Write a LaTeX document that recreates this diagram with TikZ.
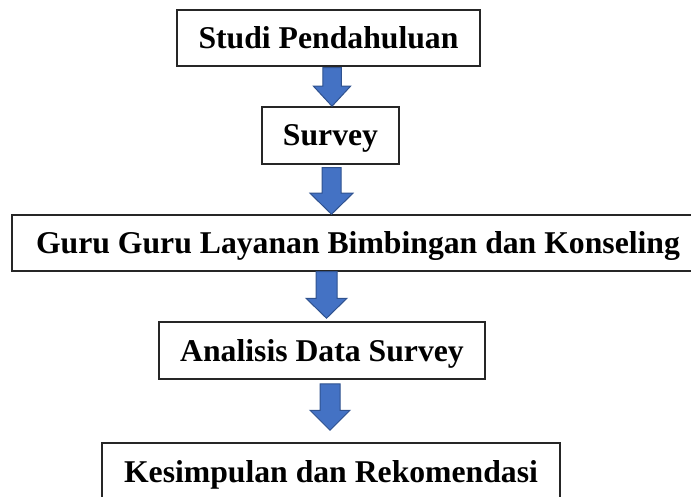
\documentclass[tikz,border=0pt]{standalone}
\usepackage{fontspec}
\setmainfont{Liberation Serif}
\usetikzlibrary{calc}
\definecolor{arrfill}{HTML}{4472C4}
\definecolor{arrline}{HTML}{2F528F}
\tikzset{
  box/.style={draw=black!85, line width=1.5pt, fill=white, inner sep=0pt,
    font=\bfseries\fontsize{31.7}{38}\selectfont, text height=21pt, text depth=0pt},
  blockarr/.style={fill=arrfill, draw=arrline, line width=1pt, line join=miter}
}
% #1 x centre, #2 from node, #3 to node, #4 top offset, #5 tip gap, #6 shaft half, #7 head half, #8 head length
\newcommand\blockarrow[8]{%
  \path[blockarr] let \p1=(#1,0), \p2=(#2.south), \p3=(#3.north) in
    (\x1-#6pt,\y2-#4pt) -- (\x1+#6pt,\y2-#4pt) -- (\x1+#6pt,\y3+#5pt+#8pt)
    -- (\x1+#7pt,\y3+#5pt+#8pt) -- (\x1,\y3+#5pt) -- (\x1-#7pt,\y3+#5pt+#8pt)
    -- (\x1-#6pt,\y3+#5pt+#8pt) -- cycle;}
\begin{document}
\begin{tikzpicture}[x=1pt,y=-1pt]
\useasboundingbox (0,0) rectangle (691,497);
\clip (0,0) rectangle (691,497);
\node[box, minimum width=303pt, minimum height=56pt] (b1) at (328.5,38) {Studi Pendahuluan};
\node[box, minimum width=137pt, minimum height=57pt] (b2) at (330.5,135.5) {Survey};
\node[box, minimum width=692pt, minimum height=56pt] (b3) at (358,243) {Guru Guru Layanan Bimbingan dan Konseling};
\node[box, minimum width=326pt, minimum height=57pt] (b4) at (322,350.5) {Analisis Data Survey};
\node[box, minimum width=458pt, minimum height=57pt] (b5) at (331,471.5) {Kesimpulan dan Rekomendasi};
\blockarrow{332}{b1}{b2}{1}{0}{9.25}{18.5}{20}
\blockarrow{331.5}{b2}{b3}{3}{0}{9.5}{21.5}{21}
\blockarrow{326.5}{b3}{b4}{0}{3}{10.5}{20.5}{20}
\blockarrow{330}{b4}{b5}{4}{12}{10}{20}{20}
\end{tikzpicture}
\end{document}
